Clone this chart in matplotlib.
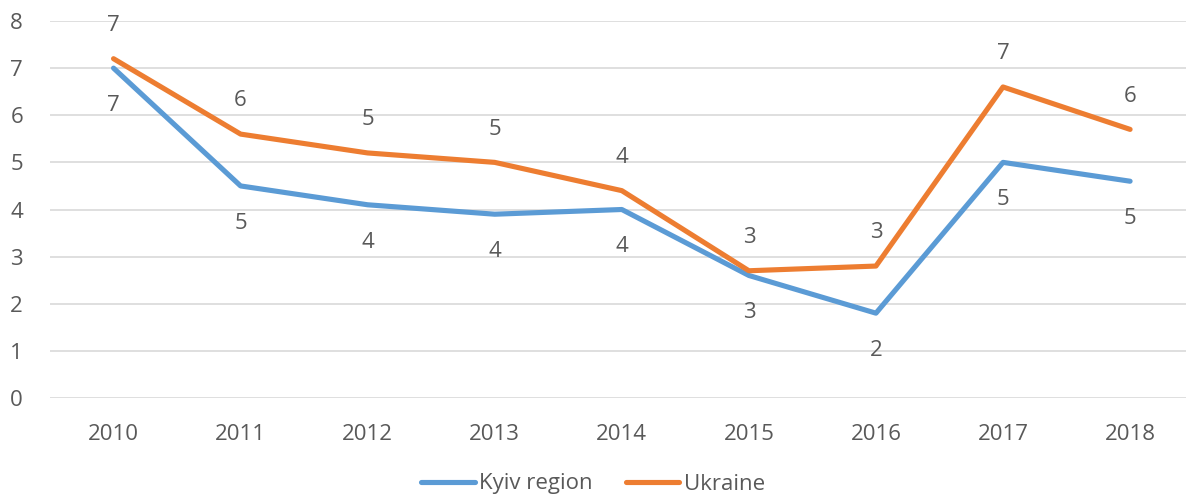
import matplotlib
matplotlib.use("Agg")
import matplotlib.pyplot as plt
from matplotlib.lines import Line2D

years = ["2010", "2011", "2012", "2013", "2014", "2015", "2016", "2017", "2018"]
kyiv = [7.0, 4.5, 4.1, 3.9, 4.0, 2.6, 1.8, 5.0, 4.6]
ukraine = [7.2, 5.6, 5.2, 5.0, 4.4, 2.7, 2.8, 6.6, 5.7]
y_ticks = [0, 1, 2, 3, 4, 5, 6, 7, 8]

BLUE = "#5B9BD5"
ORANGE = "#ED7D31"
TXT = "#595959"
GRID = "#D9D9D9"
FONT = "Open Sans"

def rlabel(v):
    return str(int(v + 0.5))

fig = plt.figure(figsize=(11.86, 4.97), dpi=100)
ax = fig.add_axes([50 / 1186, (497 - 398) / 497, 1 - 50 / 1186, (398 - 21) / 497])

x = list(range(len(years)))
ax.plot(x, kyiv, color=BLUE, lw=3.7, solid_capstyle="round", solid_joinstyle="round", zorder=3)
ax.plot(x, ukraine, color=ORANGE, lw=3.7, solid_capstyle="round", solid_joinstyle="round", zorder=3)

for xi, v in zip(x, kyiv):
    ax.annotate(rlabel(v), (xi, v), xytext=(0, -27), textcoords="offset points",
                ha="center", va="center", fontsize=16, color=TXT, family=FONT)
for xi, v in zip(x, ukraine):
    ax.annotate(rlabel(v), (xi, v), xytext=(0, 24), textcoords="offset points",
                ha="center", va="center", fontsize=16, color=TXT, family=FONT)

ax.set_ylim(0, 8)
ax.set_xlim(-0.5, 8.44)
ax.set_yticks(y_ticks)
ax.set_yticklabels([str(t) for t in y_ticks], fontsize=16, color=TXT, family=FONT)
ax.set_xticks(x)
ax.set_xticklabels(years, fontsize=16, color=TXT, family=FONT)
ax.tick_params(axis="both", length=0)
ax.tick_params(axis="y", pad=24)
ax.tick_params(axis="x", pad=19)
for lbl in ax.get_yticklabels():
    lbl.set_horizontalalignment("center")
ax.grid(axis="y", color=GRID, lw=1.2)
ax.set_axisbelow(True)
for s in ax.spines.values():
    s.set_visible(False)

handles = [Line2D([], [], color=BLUE, lw=3.7, solid_capstyle="round"),
           Line2D([], [], color=ORANGE, lw=3.7, solid_capstyle="round")]
leg = fig.legend(handles, ["Kyiv region", "Ukraine"], loc="center",
                 bbox_to_anchor=(593 / 1186, 1 - 484 / 497), ncol=2, frameon=False,
                 prop={"family": FONT, "size": 16}, handlelength=2.4, handletextpad=0.2,
                 columnspacing=1.5)
for t in leg.get_texts():
    t.set_color(TXT)

fig.savefig("out.png", dpi=100)
